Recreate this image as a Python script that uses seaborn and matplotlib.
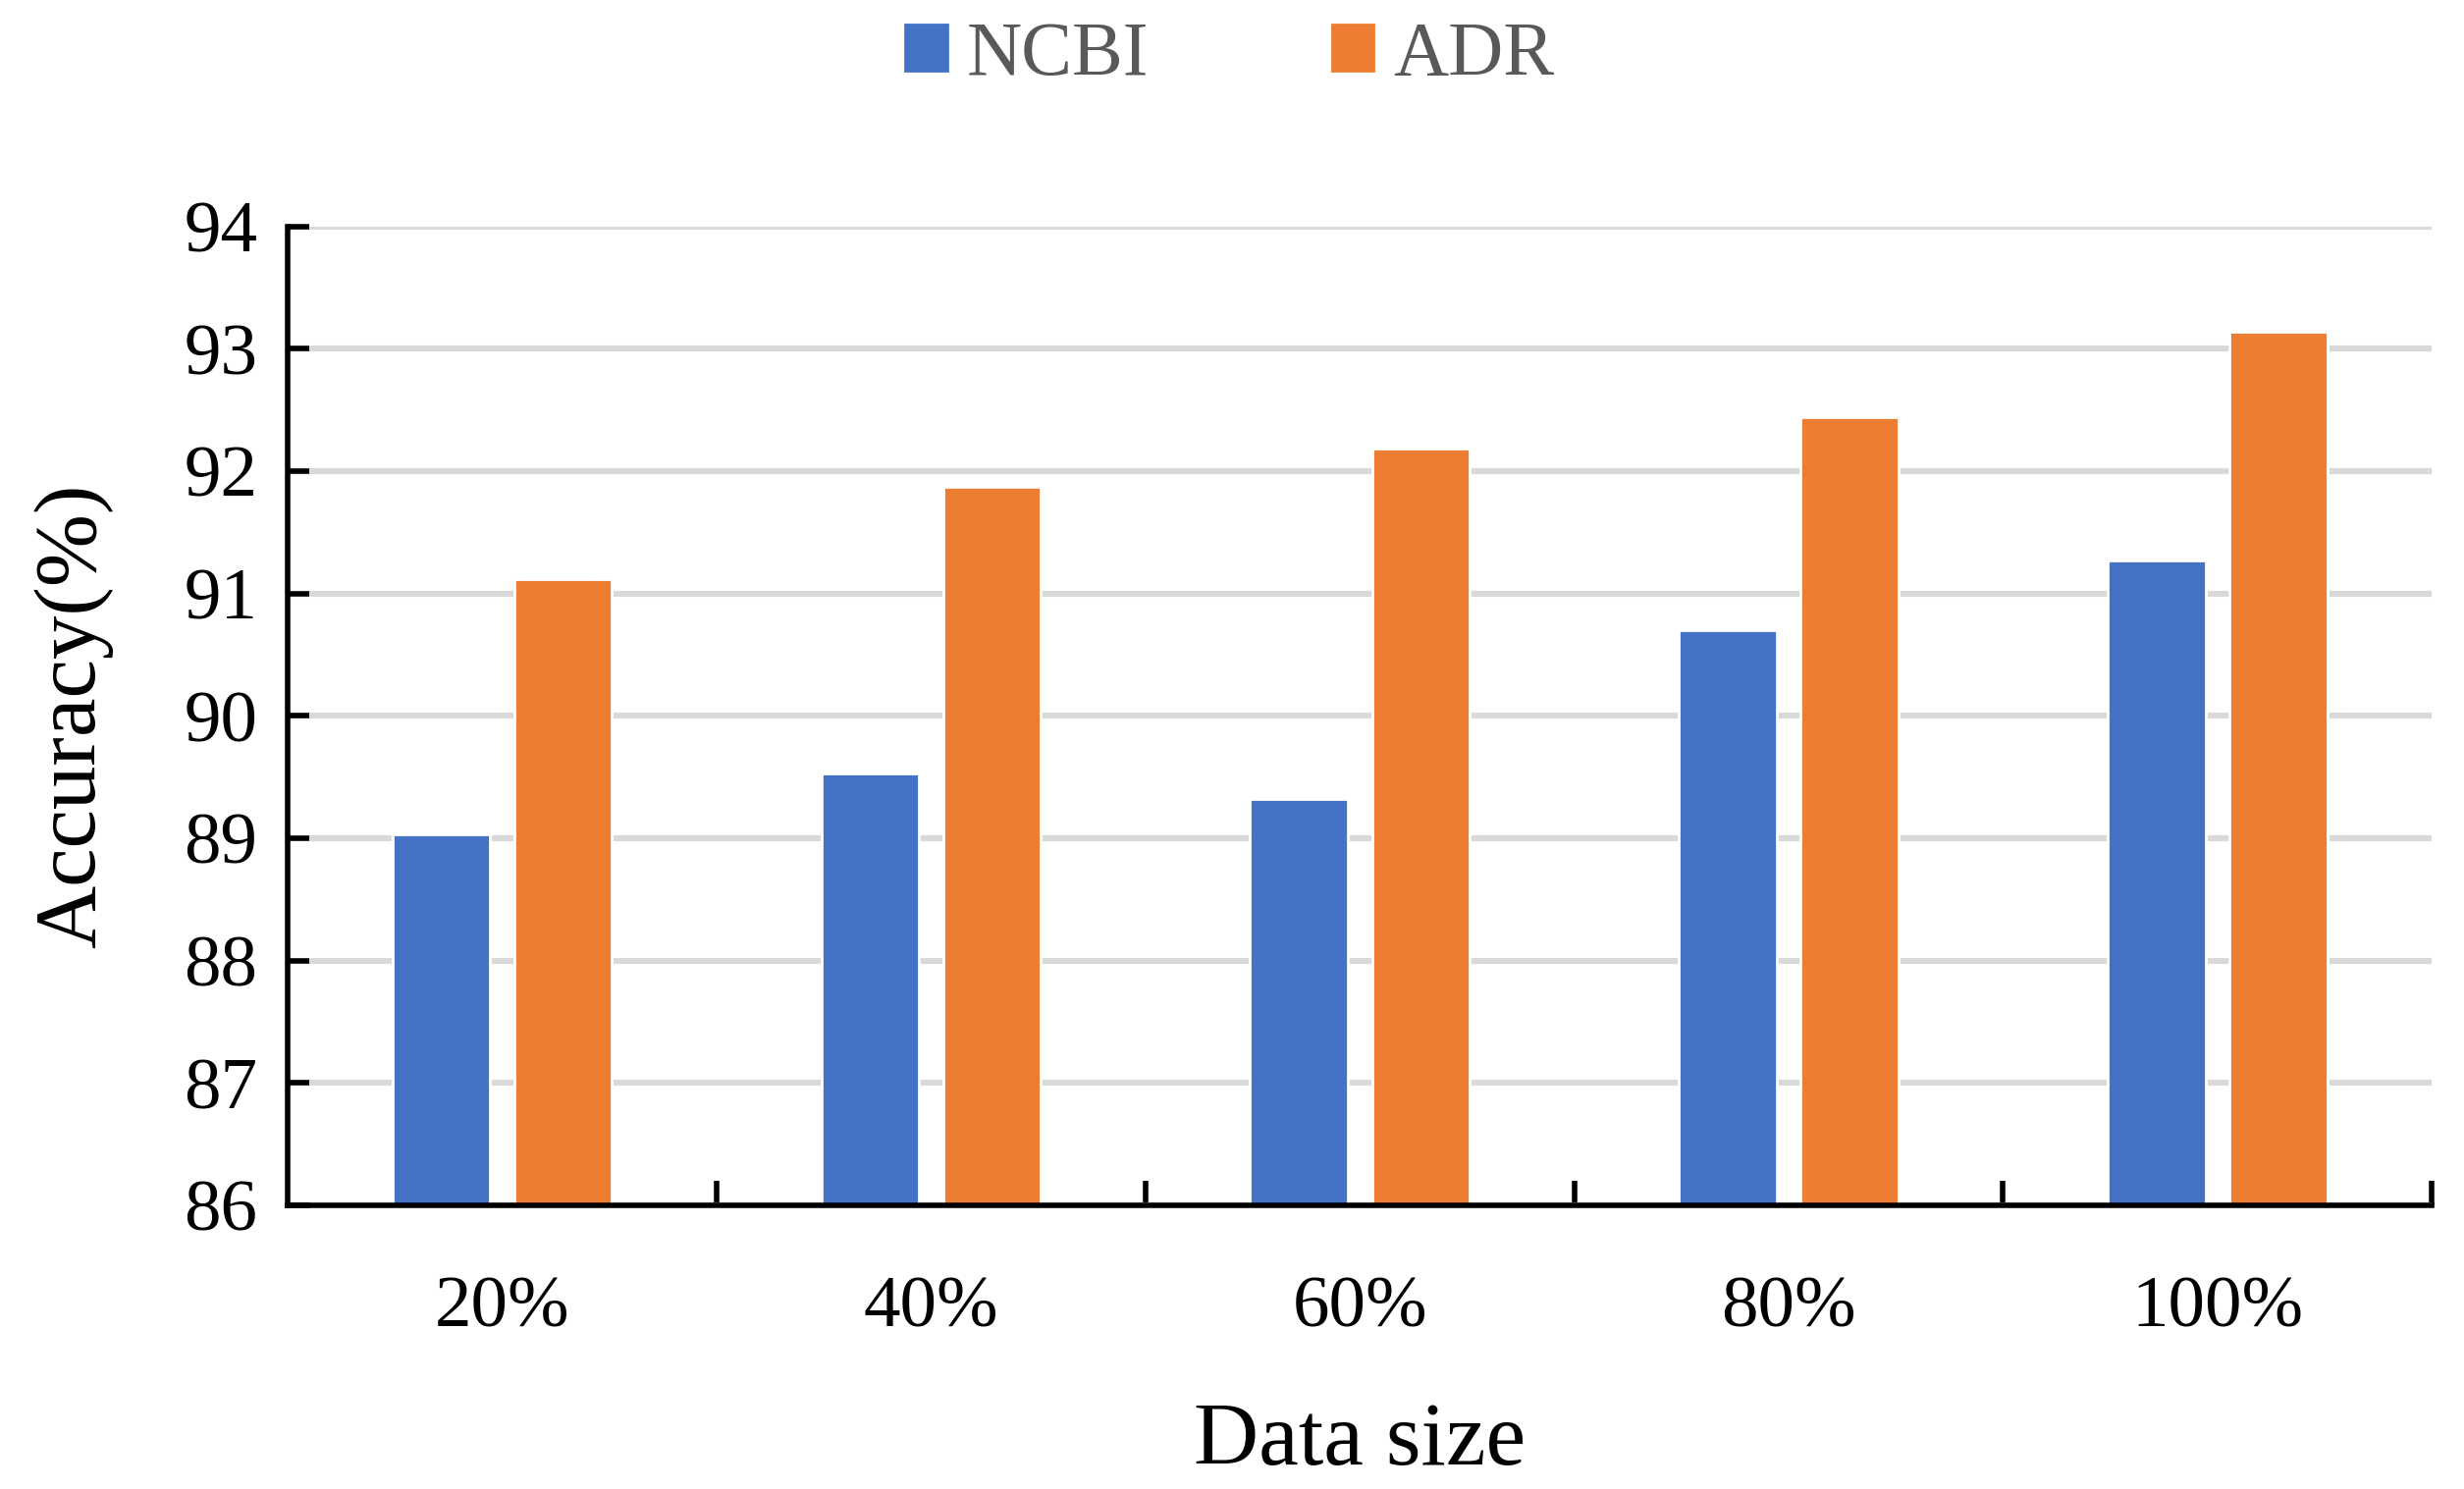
import pandas as pd
import seaborn as sns
import matplotlib
matplotlib.use('Agg')
from matplotlib import pyplot as plt
from matplotlib.ticker import FixedLocator
from matplotlib.patches import Patch

# values
sizes = ['20%', '40%', '60%', '80%', '100%']
ncbi = [89.03, 89.53, 89.32, 90.70, 91.27]
adr = [91.12, 91.87, 92.18, 92.44, 93.14]

df = pd.DataFrame({'size': sizes * 2,
                   'acc': ncbi + adr,
                   'dataset': ['NCBI'] * 5 + ['ADR'] * 5})

sns.set_style('white')
plt.rcParams['font.family'] = ['Liberation Serif', 'DejaVu Serif']

fig = plt.figure(figsize=(12.55, 7.585), dpi=200)
ax = fig.add_axes([0.1167, 0.1905, 0.8703, 0.6575])

sns.barplot(data=df, x='size', y='acc', hue='dataset', order=sizes,
            hue_order=['NCBI', 'ADR'], palette=['#4472C4', '#ED7D31'],
            width=0.568, gap=0.2, saturation=1, ax=ax, legend=False,
            zorder=3)

ax.set_ylim(86, 94)
ax.set_xlim(-0.5, 4.5)
ax.set_yticks(range(86, 95))
ax.yaxis.grid(True, color='#D9D9D9', linewidth=2.2, zorder=0)
ax.set_axisbelow(True)

for s in ['top', 'right']:
    ax.spines[s].set_visible(False)
for s in ['left', 'bottom']:
    ax.spines[s].set_linewidth(2.0)
    ax.spines[s].set_color('black')
    ax.spines[s].set_zorder(4)

ax.tick_params(axis='y', left=True, direction='in', length=8, width=2.0,
               pad=11, labelsize=27, colors='black')
ax.tick_params(axis='x', which='major', bottom=True, length=0, pad=26,
               labelsize=27, colors='black')
ax.xaxis.set_minor_locator(FixedLocator([0.5, 1.5, 2.5, 3.5, 4.5]))
ax.tick_params(axis='x', which='minor', bottom=True, direction='in',
               length=9, width=2.0, color='black')

ax.set_xlabel('Data size', fontsize=33, labelpad=22, color='black')
ax.set_ylabel('Accuracy(%)', fontsize=32, labelpad=26, color='black')

# legend at top
handles = [Patch(color='#4472C4', label='NCBI'),
           Patch(color='#ED7D31', label='ADR')]
fig.legend(handles=handles, loc='center', bbox_to_anchor=(0.499, 0.962),
           ncol=2, frameon=False, fontsize=28, labelcolor='#595959',
           handlelength=0.55, handleheight=0.55, handletextpad=0.25,
           columnspacing=2.4)

fig.savefig('out.png', dpi=200)
plt.close()
